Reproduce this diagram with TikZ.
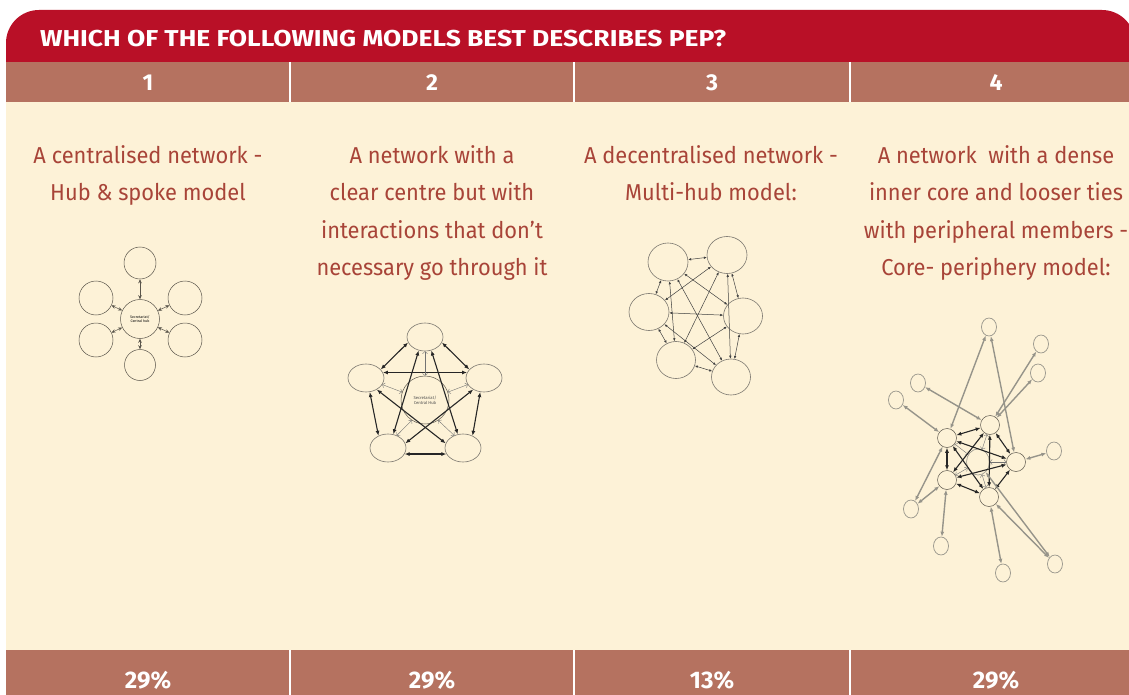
\documentclass[tikz,border=0pt]{standalone}
\usepackage{fontspec}
\setmainfont{Fira Sans}
\newfontfamily\condfont[FakeStretch=0.95]{Fira Sans}
\newfontfamily\widefont[FakeStretch=1.15]{Fira Sans}
\usetikzlibrary{shapes.geometric,arrows.meta}
\definecolor{pepred}{RGB}{185,16,39}
\definecolor{pepbrown}{RGB}{181,114,96}
\definecolor{pepcream}{RGB}{253,242,215}
\definecolor{peptext}{RGB}{168,68,56}
\definecolor{netline}{RGB}{90,85,75}
\definecolor{netgrey}{RGB}{150,148,138}
\begin{document}
\begin{tikzpicture}[
        x=1pt, y=-1pt,
        every node/.style={inner sep=0pt},
        numlabel/.style={anchor=base, text=white, font=\bfseries\fontsize{23}{23}\selectfont},
        pctlabel/.style={anchor=base, text=white, font=\bfseries\fontsize{24}{24}\selectfont},
        desc/.style={anchor=base, align=center, text=peptext, font=\condfont\fontsize{23}{37.5}\selectfont},
        hubcircle/.style={circle, draw=netline, fill=pepcream, line width=0.5pt},
        oval/.style={ellipse, draw=netline!80, fill=pepcream, line width=0.6pt},
        member/.style={ellipse, draw=netgrey, fill=pepcream, line width=0.7pt, minimum width=15pt, minimum height=18pt},
        spoke/.style={draw=netline, line width=0.5pt, {Stealth[length=4pt,width=3.5pt]}-{Stealth[length=4pt,width=3.5pt]}},
        tie/.style={draw=black!85, line width=1.1pt, {Latex[length=5pt,width=4pt]}-{Latex[length=5pt,width=4pt]}},
        faint/.style={draw=black!55, line width=0.4pt, {To[length=2.5pt]}-{To[length=2.5pt]}},
        link/.style={draw=black!75, line width=0.5pt, {Latex[length=3pt,width=2.5pt]}-{Latex[length=3pt,width=2.5pt]}},
        loose/.style={draw=netgrey, line width=1.4pt, {Latex[length=5pt,width=4pt]}-{Latex[length=5pt,width=4pt]}},
    ]
    \useasboundingbox (0,0) rectangle (1129,695);
    \fill[white] (0,0) rectangle (1129,695);
    \fill[pepred, rounded corners=33pt] (6,10) rectangle (1135,100);
    \fill[pepbrown] (6,62) rectangle (1129,102);
    \fill[pepcream] (6,102) rectangle (1129,650);
    \fill[pepbrown] (6,650) rectangle (1129,695);
    \foreach \sx in {290,574,850} {
        \draw[white, line width=2.5pt] (\sx,62) -- (\sx,102);
        \draw[white, line width=2.5pt] (\sx,650) -- (\sx,695);
    }
    \node[anchor=base west, text=white, font=\widefont\bfseries\fontsize{23}{23}\selectfont] (title) at (40,47)
        {WHICH OF THE FOLLOWING MODELS BEST DESCRIBES PEP?};
    \foreach \n/\cx/\pc in {1/148/29,2/432/29,3/712/13,4/996/29} {
        \node[numlabel] (num\n) at (\cx,91) {\n};
        \node[pctlabel] (pct\n) at (\cx,688) {\pc\%};
    }
    \node[desc] (desc1) at (148,200.5) {A centralised network -\\Hub \& spoke model};
    \node[desc] (desc2) at (432,275.5) {A network with a\\clear centre but with\\interactions that don’t\\necessary go through it};
    \node[desc] (desc3) at (711,200.5) {A decentralised network -\\Multi-hub model:};
    \node[desc] (desc4) at (996,275.5) {A network~ with a dense\\inner core and looser ties\\with peripheral members -\\Core- periphery model:};

    % hub and spoke
    \node[hubcircle, minimum size=39pt, align=center, font=\fontsize{3.6}{4.2}\selectfont] (hub) at (140,319) {Secretariat/\\Central hub};
    \node[hubcircle, minimum size=32pt] (spk1) at (140,263) {};
    \node[hubcircle, minimum size=34pt] (spk2) at (96,298) {};
    \node[hubcircle, minimum size=34pt] (spk3) at (185,298) {};
    \node[hubcircle, minimum size=34pt] (spk4) at (96,340) {};
    \node[hubcircle, minimum size=34pt] (spk5) at (185,340) {};
    \node[hubcircle, minimum size=31pt] (spk6) at (140,365) {};
    \foreach \s in {spk1,spk2,spk3,spk4,spk5,spk6}
        \draw[spoke] (\s) -- (hub);

    % clear centre
    \node[hubcircle, minimum size=48pt, align=center, font=\fontsize{4.2}{5}\selectfont, text=black!70] (ctr) at (425,400) {Secretariat/\\Central Hub};
    \node[oval, minimum width=36pt, minimum height=28pt] (cl1) at (425,337) {};
    \node[oval, minimum width=36pt, minimum height=28pt] (cl2) at (366,378) {};
    \node[oval, minimum width=36pt, minimum height=28pt] (cl3) at (484,378) {};
    \node[oval, minimum width=36pt, minimum height=28pt] (cl4) at (388,448) {};
    \node[oval, minimum width=36pt, minimum height=28pt] (cl5) at (463,448) {};
    \draw[tie] (cl1.198) -- (cl2.30);
    \draw[tie] (cl1.342) -- (cl3.150);
    \draw[tie] (cl2.18) -- (cl3.162);
    \draw[tie] (cl2.285) -- (cl4.128);
    \draw[tie] (cl3.255) -- (cl5.52);
    \draw[tie] (cl4.340) -- (cl5.200);
    \draw[tie] (cl1.245) -- (cl4.69);
    \draw[tie] (cl1.295) -- (cl5.111);
    \draw[tie] (cl2.313) -- (cl5.165);
    \draw[tie] (cl3.227) -- (cl4.15);
    \draw[faint] (cl1.270) -- (ctr.90);
    \draw[faint] (cl2.338) -- (ctr.161);
    \draw[faint] (cl3.202) -- (ctr.19);
    \draw[faint] (cl4.55) -- (ctr.237);
    \draw[faint] (cl5.125) -- (ctr.303);

    % multi-hub
    \node[oval, minimum width=40pt, minimum height=38pt] (mh1) at (668,262) {};
    \node[oval, minimum width=40pt, minimum height=37pt] (mh2) at (727,255) {};
    \node[oval, minimum width=40pt, minimum height=37pt] (mh3) at (649,312) {};
    \node[oval, minimum width=39pt, minimum height=36pt] (mh4) at (743,316) {};
    \node[oval, minimum width=39pt, minimum height=37pt] (mh5) at (676,360) {};
    \node[oval, minimum width=39pt, minimum height=36pt] (mh6) at (731,377) {};
    \foreach \a/\b in {mh1/mh2,mh1/mh3,mh1/mh4,mh1/mh5,mh1/mh6,mh2/mh3,mh2/mh4,mh2/mh5,
                       mh2/mh6,mh3/mh4,mh3/mh5,mh3/mh6,mh4/mh5,mh4/mh6,mh5/mh6}
        \draw[link] (\a) -- (\b);

    % core and periphery
    \node[ellipse, draw=netgrey, fill=pepcream, line width=0.6pt, minimum width=23pt, minimum height=26pt] (core) at (978,462) {};
    \node[hubcircle, minimum size=19pt] (k1) at (947,438) {};
    \node[hubcircle, minimum size=19pt] (k2) at (990,425) {};
    \node[hubcircle, minimum size=19pt] (k3) at (1016,462) {};
    \node[hubcircle, minimum size=19pt] (k4) at (989,497) {};
    \node[hubcircle, minimum size=19pt] (k5) at (947,480) {};
    \node[member] (per1) at (918,383) {};
    \node[member] (per2) at (896,400) {};
    \node[member] (per3) at (989,327) {};
    \node[member] (per4) at (1041,344) {};
    \node[member] (per5) at (1038,373) {};
    \node[member] (per6) at (1054,451) {};
    \node[member] (per7) at (1003,573) {};
    \node[member] (per8) at (1055,564) {};
    \node[member] (per9) at (911,509) {};
    \node[member] (per10) at (941,546) {};
    \foreach \k in {k1,k2,k3,k4,k5}
        \draw[faint] (core) -- (\k);
    \foreach \a/\b in {k1/k2,k1/k3,k1/k4,k1/k5,k2/k3,k2/k4,k2/k5,k3/k4,k3/k5,k4/k5}
        \draw[tie] (\a) -- (\b);
    \foreach \a/\b in {per1/k2,per2/k1,per3/k1,per3/k3,per4/k2,per5/k2,per6/k3,
                       per7/k4,per8/k4,per8/core,per9/k1,per9/k5,per10/k5}
        \draw[loose] (\a) -- (\b);
\end{tikzpicture}
\end{document}
